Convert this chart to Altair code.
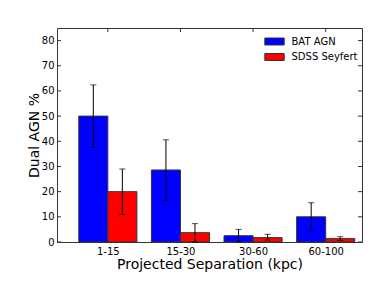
import altair as alt
import pandas as pd

categories = ["1-15", "15-30", "30-60", "60-100"]
series = ["BAT AGN", "SDSS Seyfert"]
bat = [50.0, 28.6, 2.5, 10.0]
bat_lo = [37.6, 16.4, 0.0, 4.4]
bat_hi = [62.4, 40.6, 5.0, 15.6]
sdss = [20.0, 3.7, 1.75, 1.35]
sdss_lo = [10.9, 0.0, 0.8, 0.6]
sdss_hi = [29.0, 7.3, 3.05, 2.1]
y_ticks = [0, 10, 20, 30, 40, 50, 60, 70, 80]

BW = 0.4
rows = []
for i, c in enumerate(categories):
    for s, vals, lo, hi, off in [(series[0], bat, bat_lo, bat_hi, -BW),
                                 (series[1], sdss, sdss_lo, sdss_hi, 0.0)]:
        rows.append(dict(cat=c, idx=i, series=s, value=vals[i], lo=lo[i], hi=hi[i],
                         x0=i + off, x1=i + off + BW, xc=i + off + BW / 2))
df = pd.DataFrame(rows)
ticks_df = pd.DataFrame({"t": y_ticks})
xt_df = pd.DataFrame({"t": list(range(len(categories)))})

FONT = "DejaVu Sans"
W, H = 305, 214
xscale = alt.Scale(domain=[-0.7, 3.5], nice=False, zero=False)
yscale = alt.Scale(domain=[0, 85], nice=False)
lab = "['1-15','15-30','30-60','60-100'][datum.value]"

xaxis = alt.Axis(values=[0, 1, 2, 3], labelExpr=lab, title="Projected Separation (kpc)",
                 tickSize=0, grid=False, domain=False, labelPadding=4,
                 labelFontSize=10, titleFontSize=14, titleFontWeight="normal",
                 titlePadding=1, labelColor="black", titleColor="black",
                 labelOverlap=False)
yaxis = alt.Axis(values=y_ticks, title="Dual AGN %", tickSize=0, grid=False,
                 domain=False, labelPadding=3, labelFontSize=10,
                 titleFontSize=14, titleFontWeight="normal", titlePadding=0,
                 labelColor="black", titleColor="black", labelOverlap=False)


def xq(f):
    return alt.X(f, scale=xscale, axis=xaxis)


def yq(f):
    return alt.Y(f, scale=yscale, axis=yaxis)


bars = alt.Chart(df).mark_bar(stroke="#333", strokeWidth=1, opacity=1).encode(
    x=xq("x0:Q"),
    x2="x1:Q",
    y=yq("value:Q"),
    y2=alt.datum(0),
    color=alt.Color("series:N",
                    scale=alt.Scale(domain=series, range=["#0000ff", "#ff0000"]),
                    legend=alt.Legend(title=None, orient="none", legendX=212.5, legendY=8.5,
                                      symbolType="M-2.5,-0.9L2.5,-0.9L2.5,0.9L-2.5,0.9Z",
                                      symbolSize=60, symbolStrokeColor="#333",
                                      symbolStrokeWidth=1, symbolOpacity=1,
                                      labelFontSize=10, labelFont=FONT, labelColor="black",
                                      labelOffset=12, rowPadding=3.5, padding=0)),
)

err = alt.Chart(df).mark_rule(color="black", strokeWidth=1).encode(
    x=xq("xc:Q"), y=yq("lo:Q"), y2="hi:Q")
cap_lo = alt.Chart(df).mark_tick(color="black", orient="horizontal", size=6, thickness=1).encode(
    x=xq("xc:Q"), y=yq("lo:Q"))
cap_hi = alt.Chart(df).mark_tick(color="black", orient="horizontal", size=6, thickness=1).encode(
    x=xq("xc:Q"), y=yq("hi:Q"))

tl = alt.Chart(ticks_df).mark_rule(color="#333").encode(
    y=yq("t:Q"), x=alt.value(0), x2=alt.value(4))
tr = alt.Chart(ticks_df).mark_rule(color="#333").encode(
    y=yq("t:Q"), x=alt.value(W - 4), x2=alt.value(W))
tt = alt.Chart(xt_df).mark_rule(color="#333").encode(
    x=xq("t:Q"), y=alt.value(0), y2=alt.value(4))
tb = alt.Chart(xt_df).mark_rule(color="#333").encode(
    x=xq("t:Q"), y=alt.value(H - 4), y2=alt.value(H))

chart = alt.layer(bars, err, cap_lo, cap_hi, tl, tr, tt, tb).properties(
    width=W, height=H,
    autosize=alt.AutoSizeParams(type="none"),
    padding={"left": 49, "top": 20, "right": 10, "bottom": 30},
    background="white",
).configure_view(stroke="#333", strokeWidth=1).configure_axis(
    labelFont=FONT, titleFont=FONT)

chart.save("out.html", embed_options={"renderer": "svg", "actions": False})
